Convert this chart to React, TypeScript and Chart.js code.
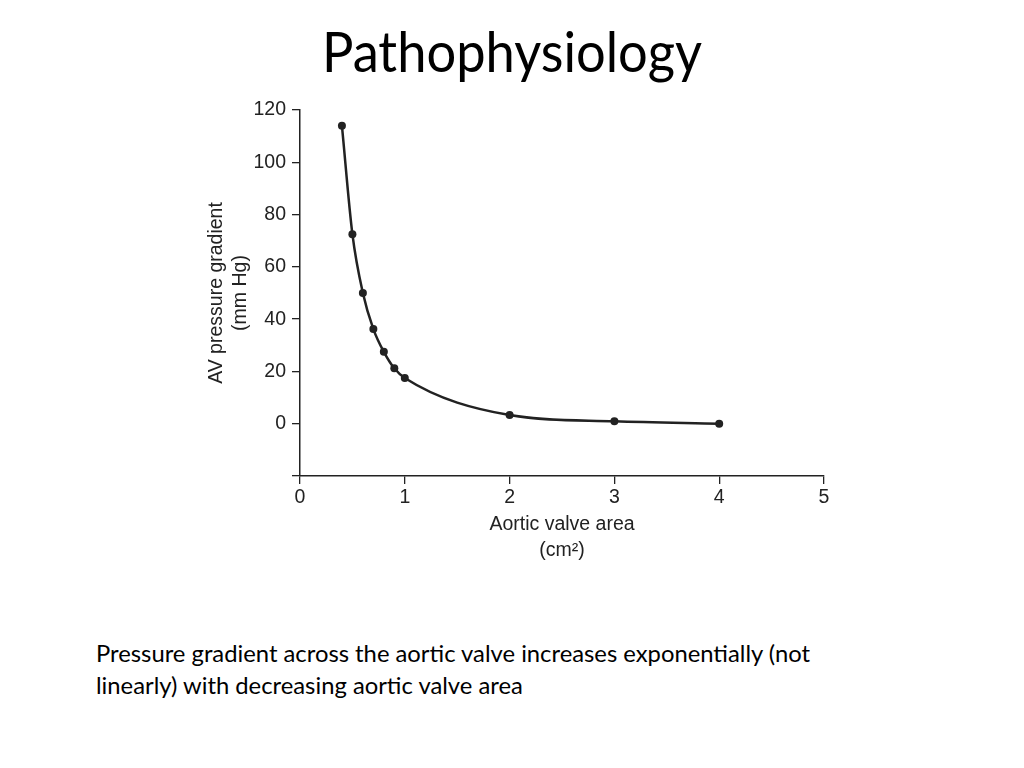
import React, { useEffect, useRef } from "react";
import { Chart, registerables } from "chart.js";

Chart.register(...registerables);

const valveArea = [0.4, 0.5, 0.6, 0.7, 0.8, 0.9, 1.0, 2.0, 3.0, 4.0];
const pressureGradient = [114, 72.5, 50, 36.2, 27.5, 21.2, 17.5, 3.3, 0.9, 0];
const yTicks = [-20, 0, 20, 40, 60, 80, 100, 120];
const xTicks = [0, 1, 2, 3, 4, 5];
const titleText = "Pathophysiology";
const yTitle = ["AV pressure gradient", "(mm Hg)"];
const xTitle = ["Aortic valve area", "(cm²)"];
const captionText =
  "Pressure gradient across the aortic valve increases exponentially (not linearly) with decreasing aortic valve area";

const AXIS_FONT = "'Liberation Sans', Arial, sans-serif";
const INK = "#222222";

export default function App() {
  const canvasRef = useRef<HTMLCanvasElement | null>(null);

  useEffect(() => {
    const canvas = canvasRef.current;
    if (!canvas) return;
    const chart = new Chart(canvas, {
      type: "line",
      data: {
        datasets: [
          {
            data: valveArea.map((x, i) => ({ x, y: pressureGradient[i] })),
            borderColor: INK,
            backgroundColor: INK,
            borderWidth: 2.5,
            pointRadius: 4,
            pointBackgroundColor: INK,
            pointBorderWidth: 0,
            cubicInterpolationMode: "monotone",
            fill: false,
          },
        ],
      },
      options: {
        animation: false,
        responsive: false,
        maintainAspectRatio: false,
        layout: { padding: { left: 0, top: 20, right: 36, bottom: 0 } },
        plugins: { legend: { display: false }, tooltip: { enabled: false }, title: { display: false } },
        scales: {
          x: {
            type: "linear",
            min: 0,
            max: 5,
            afterBuildTicks: (scale: any) => {
              scale.ticks = xTicks.map((v) => ({ value: v }));
            },
            afterFit: (scale: any) => {
              scale.height = 104;
            },
            ticks: {
              color: INK,
              font: { family: AXIS_FONT, size: 19.5 },
              padding: 2,
              maxRotation: 0,
            },
            grid: {
              display: true,
              drawOnChartArea: false,
              drawTicks: true,
              tickLength: 8,
              color: INK,
              lineWidth: 1.3,
            },
            border: { display: true, color: INK, width: 1.5 },
            title: {
              display: true,
              text: xTitle,
              color: INK,
              font: { family: AXIS_FONT, size: 19.5, lineHeight: 1.3 },
              padding: { top: 0, bottom: 17 },
            },
          },
          y: {
            type: "linear",
            min: -20,
            max: 120,
            afterBuildTicks: (scale: any) => {
              scale.ticks = yTicks.map((v) => ({ value: v }));
            },
            afterFit: (scale: any) => {
              scale.width = 120;
            },
            ticks: {
              color: INK,
              font: { family: AXIS_FONT, size: 19.5 },
              padding: 6,
              callback: (v: any) => (Number(v) === -20 ? "" : String(v)),
            },
            grid: {
              display: true,
              drawOnChartArea: false,
              drawTicks: true,
              tickLength: 8,
              color: INK,
              lineWidth: 1.3,
            },
            border: { display: true, color: INK, width: 1.5 },
            title: {
              display: true,
              text: yTitle,
              color: INK,
              font: { family: AXIS_FONT, size: 19.5, lineHeight: 1.25 },
              padding: { top: 24, bottom: 0 },
            },
          },
        },
      },
    });
    return () => chart.destroy();
  }, []);

  return (
    <div
      style={{
        position: "absolute",
        left: 0,
        top: 0,
        width: 1024,
        height: 768,
        background: "#fff",
        overflow: "hidden",
      }}
    >
      <div
        style={{
          position: "absolute",
          left: 0,
          top: 10,
          width: 1024,
          textAlign: "center",
          fontFamily: "Lato, 'Open Sans', sans-serif",
          fontSize: 57,
          lineHeight: "80px",
          color: "#000",
          transform: "scaleX(0.92)",
          transformOrigin: "512px 0",
        }}
      >
        {titleText}
      </div>
      <canvas
        ref={canvasRef}
        width={680}
        height={490}
        style={{ position: "absolute", left: 180, top: 90, width: 680, height: 490 }}
      />
      <div
        style={{
          position: "absolute",
          left: 96,
          top: 637,
          width: 760,
          fontFamily: "Lato, 'Open Sans', sans-serif",
          fontSize: 23.8,
          lineHeight: "32px",
          color: "#000",
        }}
      >
        {captionText}
      </div>
    </div>
  );
}
